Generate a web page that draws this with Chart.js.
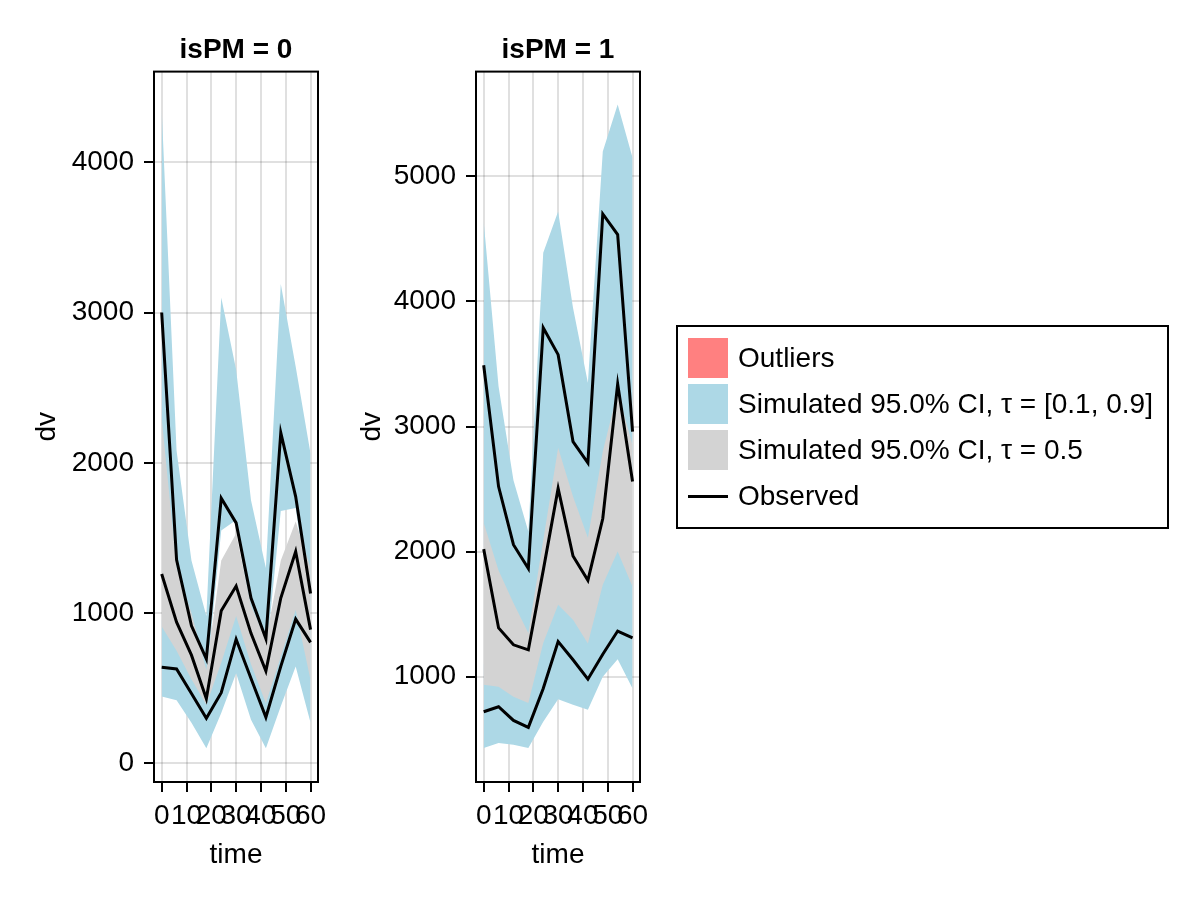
<!DOCTYPE html>
<html>
<head>
<meta charset="utf-8">
<script src="https://cdn.jsdelivr.net/npm/chart.js@4.4.0/dist/chart.umd.min.js"></script>
<style>
  body { margin: 0; background: #fff; width: 1200px; height: 900px; position: relative; overflow: hidden;
         font-family: "Liberation Sans", Arial, sans-serif; }
  .panel { position: absolute; top: 0; height: 900px; }
  #legend { position: absolute; left: 676px; top: 325px; width: 493px; height: 204px; box-sizing: border-box;
            border: 2px solid #000; }
  .row { position: absolute; left: 10px; height: 40px; display: flex; align-items: center; font-size: 28px; white-space: nowrap; }
  .sw { width: 40px; height: 40px; margin-right: 10px; flex: none; }
  .ln { width: 40px; height: 3px; background: #000; margin-right: 10px; flex: none; }
</style>
</head>
<body>
<div class="panel" style="left:0;width:340px"><canvas id="pm0" width="340" height="900"></canvas></div>
<div class="panel" style="left:340px;width:340px"><canvas id="pm1" width="340" height="900"></canvas></div>
<div id="legend">
  <div class="row" style="top:11px"><div class="sw" style="background:rgb(255,128,128)"></div>Outliers</div>
  <div class="row" style="top:57px"><div class="sw" style="background:rgb(173,216,230)"></div>Simulated 95.0% CI, τ = [0.1, 0.9]</div>
  <div class="row" style="top:103px"><div class="sw" style="background:rgb(211,211,211)"></div>Simulated 95.0% CI, τ = 0.5</div>
  <div class="row" style="top:149px"><div class="ln"></div>Observed</div>
</div>
<script>
const times = [0, 6, 12, 18, 24, 30, 36, 42, 48, 54, 60];
const xTicks = [0, 10, 20, 30, 40, 50, 60];

// isPM = 0
const pm0ObsHi  = [3000, 1355, 915, 695, 1765, 1600, 1100, 830, 2200, 1775, 1130];
const pm0ObsMid = [1260, 940, 720, 430, 1015, 1180, 865, 615, 1100, 1410, 890];
const pm0ObsLo  = [640, 628, 465, 300, 470, 826, 565, 307, 645, 960, 805];
const pm0UpHi   = [4350, 2080, 1350, 980, 3100, 2620, 1750, 1300, 3190, 2640, 2060];
const pm0UpLo   = [2200, 1150, 780, 560, 1550, 1620, 950, 700, 1680, 1700, 1000];
const pm0MedHi  = [2300, 1300, 1000, 620, 1350, 1530, 1050, 820, 1350, 1610, 1300];
const pm0MedLo  = [910, 750, 560, 390, 670, 980, 660, 400, 710, 1020, 555];
const pm0LowHi  = [950, 820, 620, 460, 720, 1020, 760, 470, 780, 1080, 900];
const pm0LowLo  = [445, 420, 270, 100, 335, 600, 290, 100, 380, 645, 270];
const pm0Ticks  = [0, 1000, 2000, 3000, 4000];

// isPM = 1
const pm1ObsHi  = [3490, 2520, 2055, 1865, 3790, 3575, 2880, 2710, 4700, 4535, 2960];
const pm1ObsMid = [2020, 1390, 1255, 1215, 1850, 2505, 1965, 1770, 2265, 3340, 2560];
const pm1ObsLo  = [720, 760, 650, 595, 905, 1280, 1135, 980, 1180, 1365, 1310];
const pm1UpHi   = [4640, 3320, 2570, 2160, 4390, 4720, 3950, 3350, 5200, 5575, 5150];
const pm1UpLo   = [2050, 1700, 1450, 1200, 1900, 2650, 2250, 1950, 2600, 3100, 2650];
const pm1MedHi  = [2230, 1850, 1590, 1350, 2090, 2830, 2440, 2110, 2800, 3280, 2850];
const pm1MedLo  = [935, 920, 840, 790, 1270, 1575, 1455, 1265, 1735, 2000, 1720];
const pm1LowHi  = [1100, 1080, 1000, 950, 1450, 1750, 1650, 1450, 1900, 2200, 1900];
const pm1LowLo  = [430, 470, 455, 430, 640, 820, 775, 735, 1000, 1140, 905];
const pm1Ticks  = [1000, 2000, 3000, 4000, 5000];

const BLUE = 'rgb(173,216,230)';
const GRAY = 'rgb(211,211,211)';
const FONT = '"Liberation Sans", Arial, sans-serif';
const NONE = 'rgba(0,0,0,0)';

function pts(vals) {
  return vals.map((v, i) => ({x: times[i], y: v}));
}

function band(lo, hi, color) {
  return [
    {data: pts(lo), borderColor: NONE, borderWidth: 0, pointRadius: 0, fill: false},
    {data: pts(hi), borderColor: NONE, borderWidth: 0, pointRadius: 0, fill: '-1', backgroundColor: color}
  ];
}

// order -1 puts the observed lines on top of every band fill
function obs(vals) {
  return {data: pts(vals), borderColor: '#000', borderWidth: 3, pointRadius: 0, fill: false, order: -1};
}

const frame = {
  id: 'frame',
  afterDraw(chart) {
    const {ctx, chartArea: a} = chart;
    ctx.save();
    ctx.strokeStyle = '#000';
    ctx.lineWidth = 2;
    ctx.strokeRect(a.left, a.top, a.right - a.left, a.bottom - a.top);
    ctx.restore();
  }
};

const grid = {color: 'rgba(0,0,0,0.12)', lineWidth: 2, tickColor: '#000', tickWidth: 2, tickLength: 10};
const tickFont = {family: FONT, size: 28};

function createPanel(canvasId, title, d, yMin, yMax, yTicks, padLeft, padRight, yWidth) {
  // band fills are painted last-to-first, so the gray band (first) ends up on top
  const datasets = [
    ...band(d.medLo, d.medHi, GRAY),
    ...band(d.lowLo, d.lowHi, BLUE),
    ...band(d.upLo, d.upHi, BLUE),
    obs(d.obsHi), obs(d.obsMid), obs(d.obsLo)
  ];
  new Chart(document.getElementById(canvasId), {
    type: 'line',
    data: {datasets: datasets},
    plugins: [frame],
    options: {
      responsive: false,
      animation: false,
      devicePixelRatio: 1,
      layout: {padding: {left: padLeft, right: padRight, top: 0, bottom: 20}},
      elements: {line: {tension: 0}},
      plugins: {
        legend: {display: false},
        tooltip: {enabled: false},
        title: {
          display: true, text: title, fullSize: false, color: '#000',
          font: {family: FONT, size: 28, weight: 'bold'},
          padding: {top: 33, bottom: 5}
        }
      },
      scales: {
        x: {
          type: 'linear', min: -3.1, max: 63,
          afterBuildTicks: s => { s.ticks = xTicks.map(v => ({value: v})); },
          afterFit: s => { s.height = 98; },
          ticks: {autoSkip: false, maxRotation: 0, minRotation: 0, padding: 7, color: '#000', font: tickFont,
                  callback: v => String(v)},
          grid: grid,
          border: {display: false},
          title: {display: true, text: 'time', color: '#000', font: tickFont, padding: {top: 0, bottom: 8}}
        },
        y: {
          type: 'linear', min: yMin, max: yMax,
          afterBuildTicks: s => { s.ticks = yTicks.map(v => ({value: v})); },
          afterFit: s => { s.width = yWidth; },
          ticks: {padding: 10, color: '#000', font: tickFont, callback: v => String(v)},
          grid: grid,
          border: {display: false},
          title: {display: true, text: 'dv', color: '#000', font: tickFont, padding: {top: 10, bottom: 0}}
        }
      }
    }
  });
}

createPanel('pm0', 'isPM = 0', {
  obsHi: pm0ObsHi, obsMid: pm0ObsMid, obsLo: pm0ObsLo,
  upHi: pm0UpHi, upLo: pm0UpLo, medHi: pm0MedHi, medLo: pm0MedLo, lowHi: pm0LowHi, lowLo: pm0LowLo
}, -124, 4603, pm0Ticks, 20, 22, 134);

createPanel('pm1', 'isPM = 1', {
  obsHi: pm1ObsHi, obsMid: pm1ObsMid, obsLo: pm1ObsLo,
  upHi: pm1UpHi, upLo: pm1UpLo, medHi: pm1MedHi, medLo: pm1MedLo, lowHi: pm1LowHi, lowLo: pm1LowLo
}, 158, 5838, pm1Ticks, 5, 40, 131);
</script>
</body>
</html>
